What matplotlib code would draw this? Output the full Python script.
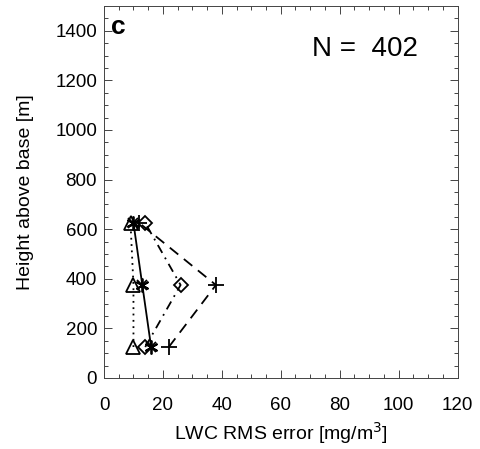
import matplotlib
matplotlib.use("Agg")
import matplotlib.pyplot as plt
from matplotlib.ticker import MultipleLocator

heights = [125, 375, 625]
solid_x = [16, 13, 10]      # asterisk, solid
dotted_x = [10, 10, 9]      # triangle, dotted
dashdot_x = [14, 26, 14]    # diamond, dash-dot
dashed_x = [22, 38, 12]     # plus, dashed
n_label = "N =  402"
panel = "c"

plt.rcParams['font.family'] = ['Liberation Sans', 'DejaVu Sans']
fig = plt.figure(figsize=(4.8, 4.49), dpi=100)
ax = fig.add_axes([104/480, 1-378/449, (457.5-104)/480, (378-6)/449])

ms = 9
ax.plot(dotted_x, heights, color='black', ls=(0, (1, 2.5)), lw=1.3,
        marker='^', ms=ms+1, mfc='none', mec='black', mew=1.3)
ax.plot(solid_x, heights, color='black', ls='-', lw=1.3,
        marker=(6, 2, 0), ms=ms+1, mec='black', mew=1.3)
ax.plot(solid_x, heights, color='none', ls='none',
        marker='x', ms=ms-2, mec='black', mew=1.3)
ax.plot(dashdot_x, heights, color='black', ls=(0, (5, 3, 1, 3)), lw=1.3,
        marker='D', ms=ms-2, mfc='none', mec='black', mew=1.3)
ax.plot(dashed_x, heights, color='black', ls=(0, (6, 4)), lw=1.3,
        marker='+', ms=ms+3, mec='black', mew=1.3)

ax.set_xlim(0, 120)
ax.set_ylim(0, 1500)
ax.xaxis.set_major_locator(MultipleLocator(20))
ax.xaxis.set_minor_locator(MultipleLocator(5))
ax.yaxis.set_major_locator(MultipleLocator(200))
ax.yaxis.set_minor_locator(MultipleLocator(50))
ax.tick_params(which='both', direction='in', top=True, right=True,
               labelsize=13.5, width=0.7, color='#444444')
ax.tick_params(which='major', length=6)
ax.tick_params(which='minor', length=3)
ax.tick_params(axis='x', which='major', pad=14)
ax.tick_params(axis='y', which='major', pad=5)
for s in ax.spines.values():
    s.set_linewidth(0.7)
    s.set_color('#444444')

ax.set_xlabel("LWC RMS error [mg/m$^3$]", fontsize=14, labelpad=4)
ax.set_ylabel("Height above base [m]", fontsize=14, labelpad=15)
ax.text(0.02, 0.944, panel, transform=ax.transAxes, fontsize=19,
        fontweight='bold', va='center', ha='left')
ax.text(0.738, 0.885, n_label, transform=ax.transAxes, fontsize=20,
        va='center', ha='center')

fig.savefig("out.png", dpi=100)
